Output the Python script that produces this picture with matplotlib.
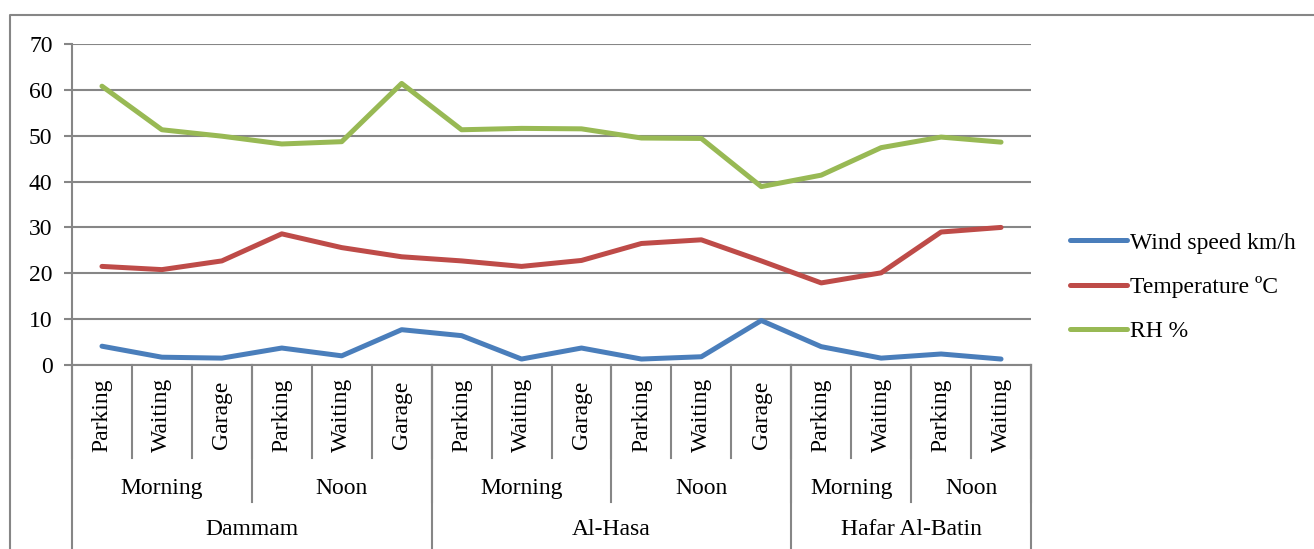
import matplotlib.pyplot as plt
from matplotlib.lines import Line2D

plt.rcParams['font.family'] = ['Liberation Serif', 'DejaVu Serif']

sites = ["Parking", "Waiting", "Garage", "Parking", "Waiting", "Garage",
         "Parking", "Waiting", "Garage", "Parking", "Waiting", "Garage",
         "Parking", "Waiting", "Parking", "Waiting"]
periods = ["Morning", "Noon", "Morning", "Noon", "Morning", "Noon"]
period_sizes = [3, 3, 3, 3, 2, 2]
cities = ["Dammam", "Al-Hasa", "Hafar Al-Batin"]
city_sizes = [6, 6, 4]

wind = [4.1, 1.7, 1.5, 3.7, 2.0, 7.7, 6.4, 1.3, 3.7, 1.3, 1.8, 9.7, 4.0, 1.5, 2.4, 1.3]
temp = [21.5, 20.8, 22.7, 28.6, 25.6, 23.6, 22.7, 21.5, 22.8, 26.5, 27.3, 22.7, 17.9, 20.1, 29.0, 30.0]
rh = [60.8, 51.3, 49.9, 48.2, 48.7, 61.4, 51.3, 51.6, 51.5, 49.5, 49.4, 38.9, 41.4, 47.4, 49.7, 48.6]

grey = '#868686'
fs = 17
fig = plt.figure(figsize=(13.14, 5.49), dpi=100)
ax = fig.add_axes([72 / 1314, 1 - 365 / 549, (1031 - 72) / 1314, 321 / 549])

x = [i + 0.5 for i in range(len(sites))]
ax.plot(x, wind, color='#4A7EBB', lw=3.6, solid_capstyle='round', label='Wind speed km/h')
ax.plot(x, temp, color='#BE4B48', lw=3.6, solid_capstyle='round', label='Temperature ºC')
ax.plot(x, rh, color='#98B954', lw=3.6, solid_capstyle='round', label='RH %')

ax.set_xlim(0, len(sites))
ax.set_ylim(0, 70)
ax.set_yticks(range(0, 71, 10))
ax.yaxis.grid(True, color=grey, lw=1.5)
ax.set_axisbelow(True)
for s in ['top', 'right', 'bottom']:
    ax.spines[s].set_visible(False)
ax.spines['left'].set_color(grey)
ax.spines['left'].set_linewidth(1.5)
ax.tick_params(axis='y', length=6, width=1.5, color=grey, labelsize=fs, pad=8)
ax.set_xticks([])
ax.axhline(0, color=grey, lw=1.5, clip_on=False)

tr = ax.get_xaxis_transform()
# multi-level category axis
for i in range(len(sites) + 1):
    ax.add_line(Line2D([i, i], [0, -0.29], transform=tr, color=grey, lw=1.5, clip_on=False))
for i, s in enumerate(sites):
    ax.text(i + 0.5, -0.155, s, transform=tr, rotation=90, ha='center', va='center', fontsize=fs)

pos = 0
for p, n in zip(periods, period_sizes):
    ax.text(pos + n / 2, -0.384, p, transform=tr, ha='center', va='center', fontsize=fs)
    pos += n
    ax.add_line(Line2D([pos, pos], [0, -0.427], transform=tr, color=grey, lw=1.5, clip_on=False))

ax.add_line(Line2D([0, 0], [0, -0.6], transform=tr, color=grey, lw=1.5, clip_on=False))
pos = 0
for c, n in zip(cities, city_sizes):
    ax.text(pos + n / 2, -0.514, c, transform=tr, ha='center', va='center', fontsize=fs)
    pos += n
    ax.add_line(Line2D([pos, pos], [0, -0.6], transform=tr, color=grey, lw=1.5, clip_on=False))

leg = fig.legend(loc='center left', bbox_to_anchor=(1070 / 1314, 1 - 287 / 549), frameon=False,
                 fontsize=fs, handlelength=2.4, handletextpad=0.15, labelspacing=0.95,
                 borderaxespad=0, borderpad=0)

# outer chart border
fig.add_artist(Line2D([10 / 1314, 10 / 1314, 1.0], [0, 1 - 15 / 549, 1 - 15 / 549],
                      transform=fig.transFigure, color=grey, lw=1.5))

fig.savefig('out.png', dpi=100)
